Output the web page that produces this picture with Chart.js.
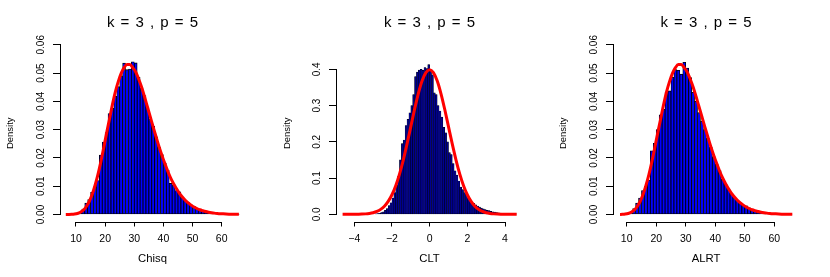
<!DOCTYPE html>
<html><head><meta charset="utf-8">
<script src="https://cdn.jsdelivr.net/npm/chart.js@4/dist/chart.umd.min.js"></script>
<style>
html,body{margin:0;padding:0;background:#fff;width:830px;height:277px;overflow:hidden}
canvas{position:absolute;top:0;display:block}
</style></head>
<body>
<canvas id="c1" width="277" height="277" style="left:0px"></canvas>
<canvas id="c2" width="276" height="277" style="left:277px"></canvas>
<canvas id="c3" width="277" height="277" style="left:553px"></canvas>
<script>
const panelTitle = "k = 3 , p = 5";
const yAxisTitle = "Density";

// Panel 1: Chisq histogram (bin midpoints, densities)
const chisqBins = [7.5,8.5,9.5,10.5,11.5,12.5,13.5,14.5,15.5,16.5,17.5,18.5,19.5,20.5,21.5,22.5,23.5,24.5,25.5,26.5,27.5,28.5,29.5,30.5,31.5,32.5,33.5,34.5,35.5,36.5,37.5,38.5,39.5,40.5,41.5,42.5,43.5,44.5,45.5,46.5,47.5,48.5,49.5,50.5,51.5,52.5,53.5,54.5,55.5,56.5,57.5,58.5,59.5,60.5,61.5,62.5,63.5,64.5,65.5];
const chisqDensity = [0.00002,0.00005,0.0001,0.0003,0.0008,0.0019,0.0040,0.0053,0.0078,0.0098,0.0120,0.0210,0.0256,0.0290,0.0357,0.0375,0.0418,0.0452,0.0490,0.0535,0.0512,0.0514,0.0540,0.0536,0.0485,0.0448,0.0420,0.0378,0.0338,0.0312,0.0275,0.0238,0.0212,0.0182,0.0157,0.0110,0.0105,0.0085,0.0080,0.0062,0.0050,0.0042,0.0034,0.0029,0.0022,0.0018,0.0013,0.0010,0.0009,0.0006,0.0005,0.0004,0.0003,0.0003,0.0002,0.0001,0.0001,0.00005,0.00003];
const chisqCurveX = [6.5,7.5,8.5,9.5,10.5,11.5,12.5,13.5,14.5,15.5,16.5,17.5,18.5,19.5,20.5,21.5,22.5,23.5,24.5,25.5,26.5,27.5,28.5,29.5,30.5,31.5,32.5,33.5,34.5,35.5,36.5,37.5,38.5,39.5,40.5,41.5,42.5,43.5,44.5,45.5,46.5,47.5,48.5,49.5,50.5,51.5,52.5,53.5,54.5,55.5,56.5,57.5,58.5,59.5,60.5,61.5,62.5,63.5,64.5,65.5,65.9];
const chisqCurveY = [0.000003,0.000015,0.000051,0.000148,0.000364,0.000786,0.00154,0.00274,0.00452,0.00695,0.01017,0.01400,0.01853,0.02356,0.02878,0.03378,0.03886,0.04337,0.04698,0.0499,0.0519,0.0530,0.0530,0.0519,0.0504,0.0479,0.0451,0.0417,0.0381,0.0345,0.0309,0.0274,0.0240,0.0209,0.0180,0.0153,0.0129,0.0109,0.0091,0.0075,0.0062,0.00505,0.00410,0.00332,0.00266,0.00212,0.00168,0.00134,0.00104,0.00082,0.00064,0.00049,0.00038,0.00029,0.000225,0.000172,0.00013,0.0000984,0.0000743,0.0000561,0.000049];

// Panel 2: CLT histogram
const cltBins = [-2.85,-2.75,-2.65,-2.55,-2.45,-2.35,-2.25,-2.15,-2.05,-1.95,-1.85,-1.75,-1.65,-1.55,-1.45,-1.35,-1.25,-1.15,-1.05,-0.95,-0.85,-0.75,-0.65,-0.55,-0.45,-0.35,-0.25,-0.15,-0.05,0.05,0.15,0.25,0.35,0.45,0.55,0.65,0.75,0.85,0.95,1.05,1.15,1.25,1.35,1.45,1.55,1.65,1.75,1.85,1.95,2.05,2.15,2.25,2.35,2.45,2.55,2.65,2.75,2.85,2.95,3.05,3.15,3.25,3.35,3.45,3.55,3.65,3.75,3.85,3.95,4.05,4.15,4.25,4.35,4.45,4.55];
const cltDensity = [0.001,0.002,0.003,0.005,0.007,0.011,0.016,0.024,0.032,0.045,0.060,0.080,0.105,0.150,0.195,0.205,0.245,0.262,0.280,0.300,0.330,0.380,0.392,0.398,0.400,0.397,0.405,0.402,0.413,0.395,0.385,0.335,0.330,0.300,0.285,0.268,0.240,0.225,0.200,0.170,0.165,0.140,0.120,0.108,0.092,0.075,0.068,0.060,0.055,0.045,0.040,0.034,0.030,0.026,0.023,0.020,0.017,0.015,0.013,0.011,0.010,0.008,0.007,0.006,0.005,0.004,0.0035,0.003,0.0025,0.002,0.0015,0.001,0.0008,0.0005,0.0003];
const cltCurveX = [-4.62,-4.4,-4.2,-4.0,-3.8,-3.6,-3.4,-3.2,-3.0,-2.8,-2.6,-2.4,-2.2,-2.0,-1.8,-1.6,-1.4,-1.2,-1.0,-0.8,-0.6,-0.4,-0.2,0,0.2,0.4,0.6,0.8,1.0,1.2,1.4,1.6,1.8,2.0,2.2,2.4,2.6,2.8,3.0,3.2,3.4,3.6,3.8,4.0,4.2,4.4,4.62];
const cltCurveY = [0.00001,0.00002,0.00006,0.0001,0.0003,0.0006,0.0012,0.0024,0.0044,0.0079,0.0136,0.0224,0.0355,0.0540,0.0790,0.1109,0.1497,0.1942,0.2420,0.2897,0.3332,0.3683,0.3910,0.3989,0.3910,0.3683,0.3332,0.2897,0.2420,0.1942,0.1497,0.1109,0.0790,0.0540,0.0355,0.0224,0.0136,0.0079,0.0044,0.0024,0.0012,0.0006,0.0003,0.0001,0.00006,0.00002,0.00001];

// Panel 3: ALRT histogram
const alrtBins = [8.5,9.5,10.5,11.5,12.5,13.5,14.5,15.5,16.5,17.5,18.5,19.5,20.5,21.5,22.5,23.5,24.5,25.5,26.5,27.5,28.5,29.5,30.5,31.5,32.5,33.5,34.5,35.5,36.5,37.5,38.5,39.5,40.5,41.5,42.5,43.5,44.5,45.5,46.5,47.5,48.5,49.5,50.5,51.5,52.5,53.5,54.5,55.5,56.5,57.5,58.5,59.5,60.5,61.5,62.5,63.5,64.5,65.5];
const alrtDensity = [0.00003,0.0001,0.0003,0.0008,0.0021,0.0040,0.0058,0.0085,0.0100,0.0122,0.0225,0.0252,0.0300,0.0352,0.0372,0.0432,0.0437,0.0485,0.0512,0.0510,0.0496,0.0538,0.0518,0.0484,0.0432,0.0400,0.0360,0.0330,0.0300,0.0270,0.0238,0.0205,0.0178,0.0155,0.0125,0.0107,0.0090,0.0076,0.0062,0.0050,0.0041,0.0033,0.0031,0.0024,0.0018,0.0015,0.0011,0.0009,0.0007,0.0006,0.0005,0.0004,0.0003,0.0002,0.0002,0.0001,0.0001,0.00005];
const alrtCurveX = [7.74,8.5,9.5,10.5,11.5,12.5,13.5,14.5,15.5,16.5,17.5,18.5,19.5,20.5,21.5,22.5,23.5,24.5,25.5,26.5,27.5,28.5,29.5,30.5,31.5,32.5,33.5,34.5,35.5,36.5,37.5,38.5,39.5,40.5,41.5,42.5,43.5,44.5,45.5,46.5,47.5,48.5,49.5,50.5,51.5,52.5,53.5,54.5,55.5,56.5,57.5,58.5,59.5,60.5,61.5,62.5,63.5,64.5,65.5,66.1];
const alrtCurveY = [0.00002,0.000051,0.000148,0.000364,0.000786,0.00154,0.00274,0.00452,0.00695,0.01017,0.01400,0.01853,0.02356,0.02878,0.03378,0.03886,0.04337,0.04698,0.0499,0.0519,0.0530,0.0530,0.0519,0.0504,0.0479,0.0451,0.0417,0.0381,0.0345,0.0309,0.0274,0.0240,0.0209,0.0180,0.0153,0.0129,0.0109,0.0091,0.0075,0.0062,0.00505,0.00410,0.00332,0.00266,0.00212,0.00168,0.00134,0.00104,0.00082,0.00064,0.00049,0.00038,0.00029,0.000225,0.000172,0.00013,0.0000984,0.0000743,0.0000561,0.000047];

// Tick values and labels
const chisqXTicks = [10,20,30,40,50,60];
const chisqXLabels = ["10","20","30","40","50","60"];
const chisqYTicks = [0,0.01,0.02,0.03,0.04,0.05,0.06];
const chisqYLabels = ["0.00","0.01","0.02","0.03","0.04","0.05","0.06"];
const cltXTicks = [-4,-2,0,2,4];
const cltXLabels = ["\u22124","\u22122","0","2","4"];
const cltYTicks = [0,0.1,0.2,0.3,0.4];
const cltYLabels = ["0.0","0.1","0.2","0.3","0.4"];

const FONT = '"Liberation Sans", Arial, Helvetica, sans-serif';
const alignPx = v => Math.round(v - 0.5) + 0.5;

const rAxes = {
  id: 'rAxes',
  afterDraw(chart, args, opts) {
    const {ctx, chartArea} = chart;
    const xs = chart.scales.x, ys = chart.scales.y;
    const xt = xs.ticks.map(t => xs.getPixelForValue(t.value));
    const yt = ys.ticks.map(t => ys.getPixelForValue(t.value));
    ctx.save();
    ctx.strokeStyle = '#000';
    ctx.lineWidth = 1;
    ctx.beginPath();
    const yb = alignPx(chartArea.bottom);
    ctx.moveTo(alignPx(xt[0]) - 0.5, yb);
    ctx.lineTo(alignPx(xt[xt.length - 1]) + 0.5, yb);
    const xl = alignPx(chartArea.left);
    ctx.moveTo(xl, alignPx(yt[0]) + 0.5);
    ctx.lineTo(xl, alignPx(yt[yt.length - 1]) - 0.5);
    ctx.stroke();
    ctx.fillStyle = '#000';
    ctx.font = '10px ' + FONT;
    ctx.textAlign = 'center';
    ctx.textBaseline = 'alphabetic';
    yt.forEach((p, i) => {
      ctx.save();
      ctx.translate(chartArea.left - 16.5, p);
      ctx.rotate(-Math.PI / 2);
      ctx.fillText(opts.labels[i], 0, 0);
      ctx.restore();
    });
    ctx.restore();
  }
};
const wordGap = { id: 'wordGap', beforeDraw(chart) { chart.ctx.wordSpacing = '2px'; } };

function buildPanel(id, p) {
  new Chart(document.getElementById(id), {
    type: 'bar',
    data: {
      datasets: [
        {
          type: 'line',
          data: p.curveX.map((x, i) => ({x: x, y: p.curveY[i]})),
          borderColor: '#ff0000', borderWidth: 3, pointRadius: 0, fill: false,
          cubicInterpolationMode: 'monotone', order: 0
        },
        {
          type: 'bar',
          data: p.binX.map((x, i) => ({x: x, y: p.binY[i]})),
          backgroundColor: p.barFill, borderColor: '#000000', borderWidth: p.barBorder,
          borderSkipped: false, barPercentage: 1, categoryPercentage: 1, inflateAmount: 0.33, order: 1
        }
      ]
    },
    options: {
      responsive: false, animation: false, devicePixelRatio: 1,
      layout: {padding: {left: 0, right: p.padRight, top: 0, bottom: 0}},
      plugins: {
        legend: {display: false},
        tooltip: {enabled: false},
        title: {display: true, text: panelTitle, fullSize: false, color: '#000',
          font: {family: FONT, size: 15, weight: 'normal', lineHeight: 1.2},
          padding: {top: 14, bottom: 12.5}},
        rAxes: {labels: p.yLabels}
      },
      scales: {
        x: {
          type: 'linear', min: p.xMin, max: p.xMax, offset: false,
          afterBuildTicks: s => { s.ticks = p.xTicks.map(v => ({value: v})); },
          afterFit: s => { s.height = 55; },
          ticks: {callback: (v, i) => p.xLabels[i], color: '#000', font: {family: FONT, size: 10.5},
            padding: 6.8, autoSkip: false, maxRotation: 0, minRotation: 0},
          grid: {display: true, drawOnChartArea: false, drawTicks: true, tickLength: 4.5, color: '#000', lineWidth: 1, offset: false},
          border: {display: false},
          title: {display: true, text: p.xTitle, color: '#000', font: {family: FONT, size: 11.3}, padding: {top: 0, bottom: 11.2}}
        },
        y: {
          type: 'linear', min: p.yMin, max: p.yMax,
          afterBuildTicks: s => { s.ticks = p.yTicks.map(v => ({value: v})); },
          afterFit: s => { s.width = p.left; },
          ticks: {display: false},
          grid: {display: true, drawOnChartArea: false, drawTicks: true, tickLength: 7, color: '#000', lineWidth: 1},
          border: {display: false},
          title: {display: true, text: yAxisTitle, color: '#000', font: {family: FONT, size: 9.5}, padding: {top: 4.3, bottom: 0}}
        }
      }
    },
    plugins: [rAxes, wordGap]
  });
}

buildPanel('c1', {binX: chisqBins, binY: chisqDensity, curveX: chisqCurveX, curveY: chisqCurveY,
  xMin: 4.51, xMax: 68.0, yMin: -0.00265, yMax: 0.0601, left: 60, padRight: 32, barBorder: 0.83, barFill: '#0000ff',
  xTicks: chisqXTicks, xLabels: chisqXLabels, yTicks: chisqYTicks, yLabels: chisqYLabels, xTitle: 'Chisq'});
buildPanel('c2', {binX: cltBins, binY: cltDensity, curveX: cltCurveX, curveY: cltCurveY,
  xMin: -4.97, xMax: 4.955, yMin: -0.0212, yMax: 0.4684, left: 59, padRight: 30, barBorder: 0.45, barFill: '#000090',
  xTicks: cltXTicks, xLabels: cltXLabels, yTicks: cltYTicks, yLabels: cltYLabels, xTitle: 'CLT'});
buildPanel('c3', {binX: alrtBins, binY: alrtDensity, curveX: alrtCurveX, curveY: alrtCurveY,
  xMin: 5.36, xMax: 68.37, yMin: -0.00265, yMax: 0.0601, left: 60, padRight: 31, barBorder: 0.83, barFill: '#0000ff',
  xTicks: chisqXTicks, xLabels: chisqXLabels, yTicks: chisqYTicks, yLabels: chisqYLabels, xTitle: 'ALRT'});
</script>
</body></html>
